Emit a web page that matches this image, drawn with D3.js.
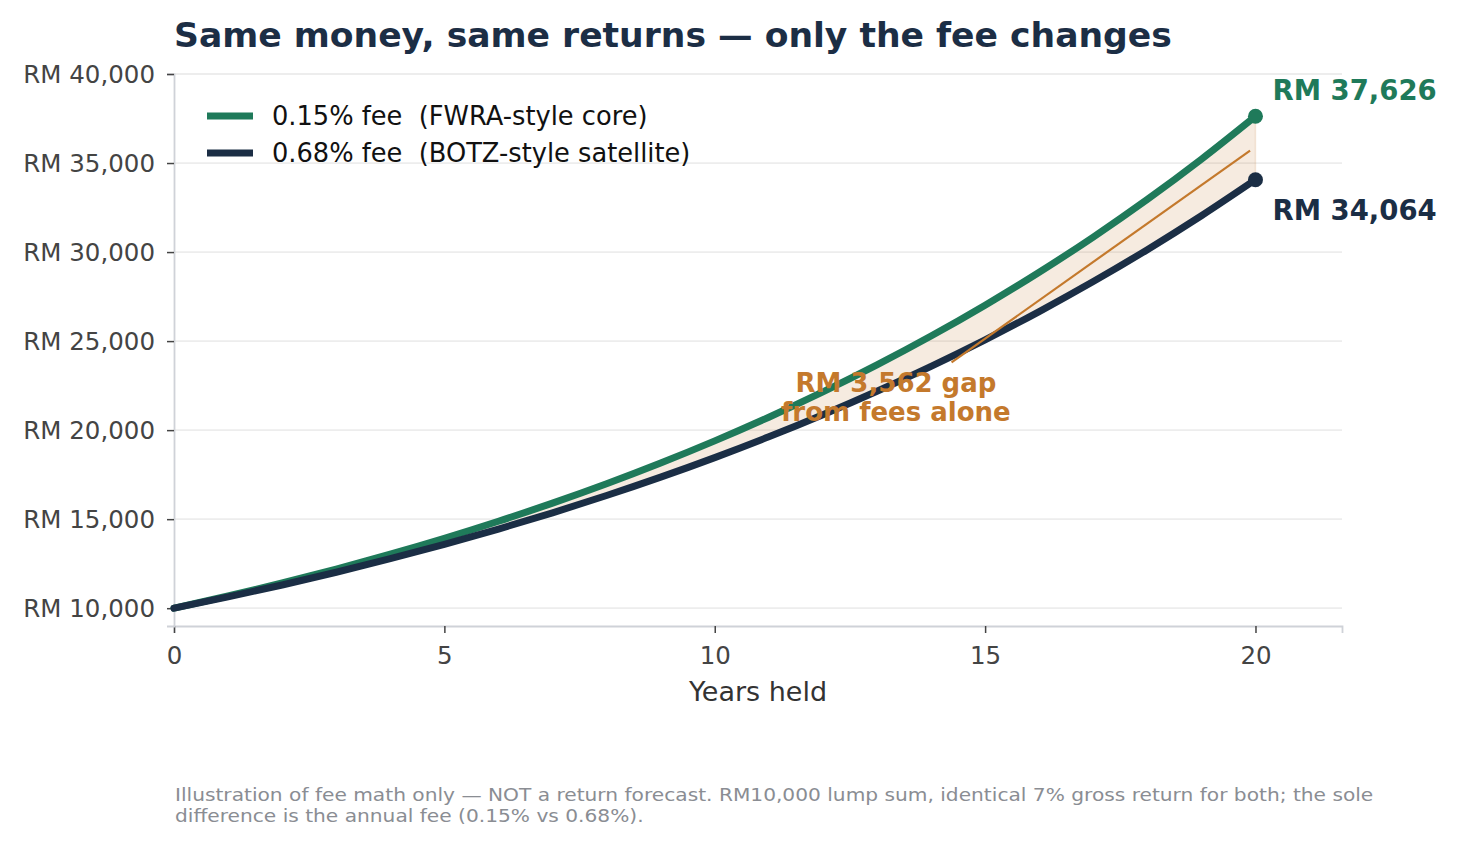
<!DOCTYPE html>
<html>
<head>
<meta charset="utf-8">
<script src="https://cdn.jsdelivr.net/npm/d3@7"></script>
<style>
  body { margin: 0; background: #fff; font-family: "DejaVu Sans", sans-serif; }
  text { white-space: pre; }
</style>
</head>
<body>
<div id="chart"></div>
<script>
// values (RM, year-end balance)
const years = [0, 1, 2, 3, 4, 5, 6, 7, 8, 9, 10, 11, 12, 13, 14, 15, 16, 17, 18, 19, 20];
const lowFee = [10000, 10685, 11417, 12199, 13035, 13927, 14882, 15901, 16990, 18154, 19397,
  20726, 22146, 23663, 25284, 27016, 28866, 30844, 32957, 35214, 37626];
const highFee = [10000, 10632, 11304, 12018, 12778, 13585, 14444, 15357, 16328, 17359, 18457,
  19623, 20863, 22182, 23584, 25074, 26659, 28344, 30135, 32039, 34064];
const seriesNames = ["0.15% fee  (FWRA-style core)", "0.68% fee  (BOTZ-style satellite)"];
const yTicks = [10000, 15000, 20000, 25000, 30000, 35000, 40000];
const xTicks = [0, 5, 10, 15, 20];
const gapLabel = ["RM 3,562 gap", "from fees alone"];

const width = 1458, height = 846;
const margin = {top: 74, right: 116, bottom: 220, left: 174};
const green = "#1f7a5a", navy = "#1b2e45", orange = "#c4792c";

let svg = d3.select("#chart")
    .append("svg")
    .attr("width", width)
    .attr("height", height);

let x = d3.scaleLinear()
    .domain([0, 21.6])
    .range([margin.left, width - margin.right]);

let y = d3.scaleLinear()
    .domain([9000, 40000])
    .range([height - margin.bottom, margin.top]);

// grid
svg.append("g").selectAll("line")
    .data(yTicks)
    .join("line")
    .attr("x1", x(0)).attr("x2", x(21.6))
    .attr("y1", d => y(d)).attr("y2", d => y(d))
    .attr("stroke", "#ededed")
    .attr("stroke-width", 1.8);

// axes
let xAxis = svg.append("g")
    .attr("transform", `translate(0, ${y(9000)})`)
    .call(d3.axisBottom(x).tickValues(xTicks).tickSize(7).tickPadding(14));

let yAxis = svg.append("g")
    .attr("transform", `translate(${x(0)}, 0)`)
    .call(d3.axisLeft(y).tickValues(yTicks).tickSize(7).tickPadding(12)
        .tickFormat(d => "RM " + d3.format(",")(d)));

[xAxis, yAxis].forEach(function(a) {
    a.select(".domain").attr("stroke", "#cfd2d8").attr("stroke-width", 1.8);
    a.selectAll(".tick line").attr("stroke", "#444").attr("stroke-width", 1.5);
    a.selectAll(".tick text")
        .attr("fill", "#444")
        .style("font-family", "DejaVu Sans")
        .style("font-size", "24.5px");
});
yAxis.selectAll(".tick text").attr("dy", "0.35em");

// gap band
let band = years.map((d, i) => ({year: d, lo: highFee[i], hi: lowFee[i]}));
svg.append("path")
    .datum(band)
    .attr("d", d3.area()
        .x(d => x(d.year))
        .y0(d => y(d.lo))
        .y1(d => y(d.hi))
        .curve(d3.curveMonotoneX))
    .attr("fill", orange)
    .attr("fill-opacity", 0.15)
    .attr("stroke", orange)
    .attr("stroke-opacity", 0.15)
    .attr("stroke-width", 1.5);

// lines
let line = d3.line()
    .x(d => x(d[0]))
    .y(d => y(d[1]))
    .curve(d3.curveMonotoneX);

[[lowFee, green], [highFee, navy]].forEach(function(s) {
    svg.append("path")
        .datum(years.map((d, i) => [d, s[0][i]]))
        .attr("d", line)
        .attr("fill", "none")
        .attr("stroke", s[1])
        .attr("stroke-width", 7)
        .attr("stroke-linejoin", "round")
        .attr("stroke-linecap", "round");
    svg.append("circle")
        .attr("cx", x(20))
        .attr("cy", y(s[0][20]))
        .attr("r", 7.5)
        .attr("fill", s[1]);
});

// end labels
svg.append("text")
    .attr("x", x(20) + 17)
    .attr("y", 100)
    .attr("fill", green)
    .style("font-size", "27.5px")
    .style("font-weight", "bold")
    .text("RM " + d3.format(",")(lowFee[20]));

svg.append("text")
    .attr("x", x(20) + 17)
    .attr("y", 220)
    .attr("fill", navy)
    .style("font-size", "27.5px")
    .style("font-weight", "bold")
    .text("RM " + d3.format(",")(highFee[20]));

// annotation pointer into the band
svg.append("line")
    .attr("x1", x(14.38)).attr("y1", y(23800))
    .attr("x2", x(19.9)).attr("y2", y(35700))
    .attr("stroke", orange)
    .attr("stroke-width", 2.2);

let ann = svg.append("text")
    .attr("text-anchor", "middle")
    .attr("fill", orange)
    .style("font-size", "26px")
    .style("font-weight", "bold");
gapLabel.forEach(function(t, i) {
    ann.append("tspan").attr("x", x(13.35)).attr("y", 392 + i * 29).text(t);
});

// legend
let legend = svg.append("g");
[[seriesNames[0], green], [seriesNames[1], navy]].forEach(function(s, i) {
    let ly = 116 + i * 37;
    legend.append("line")
        .attr("x1", 207).attr("x2", 253)
        .attr("y1", ly).attr("y2", ly)
        .attr("stroke", s[1])
        .attr("stroke-width", 7);
    legend.append("text")
        .attr("x", 272).attr("y", ly)
        .attr("dy", "0.35em")
        .attr("fill", "#111")
        .style("font-size", "25.7px")
        .text(s[0]);
});

// title
svg.append("text")
    .attr("x", 174).attr("y", 47)
    .attr("fill", "#1c2e45")
    .style("font-size", "34.6px")
    .style("font-weight", "bold")
    .text("Same money, same returns \u2014 only the fee changes");

// x label
svg.append("text")
    .attr("x", (x(0) + x(21.6)) / 2)
    .attr("y", 701)
    .attr("text-anchor", "middle")
    .attr("fill", "#333")
    .style("font-size", "27px")
    .text("Years held");

// footnote (glyphs are a little wide in the original, so stretch horizontally)
let note = svg.append("text")
    .attr("fill", "#8a8d93")
    .attr("transform", "translate(175,0) scale(1.16,1) translate(-175,0)")
    .style("font-size", "17.4px");
["Illustration of fee math only \u2014 NOT a return forecast. RM10,000 lump sum, identical 7% gross return for both; the sole",
 "difference is the annual fee (0.15% vs 0.68%)."].forEach(function(t, i) {
    note.append("tspan").attr("x", 175).attr("y", 801 + i * 21).text(t);
});
</script>
</body>
</html>
